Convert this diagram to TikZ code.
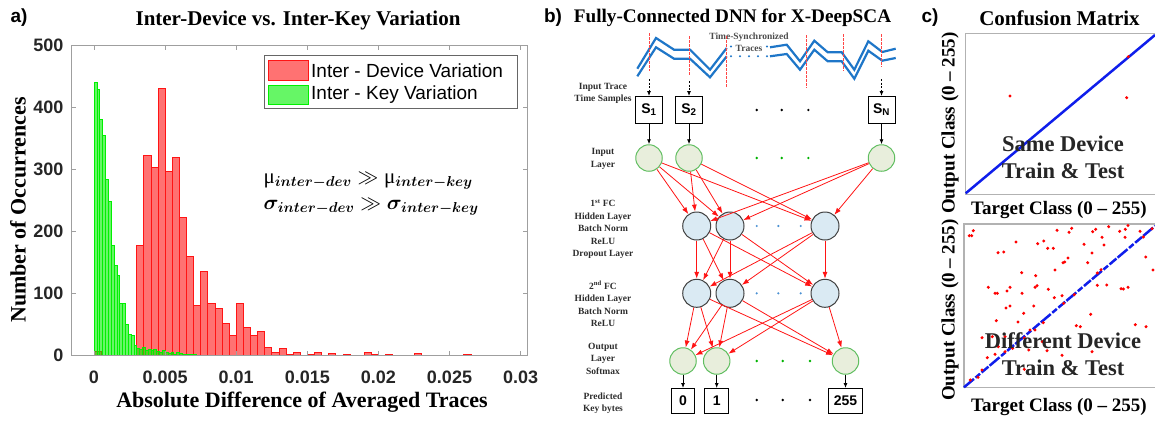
\documentclass[tikz,border=0pt]{standalone}
\usepackage{fontspec}
\setmainfont{Liberation Serif}
\setsansfont{Liberation Sans}
\usepackage{bm}
\usepackage{tikz}
\usetikzlibrary{arrows.meta,calc}

\definecolor{histred}{RGB}{255,20,20}
\definecolor{histgreen}{RGB}{0,240,0}
\definecolor{tracebl}{RGB}{30,118,200}
\definecolor{ingreen}{RGB}{96,190,96}
\definecolor{infill}{RGB}{232,238,220}
\definecolor{hidfill}{RGB}{218,234,243}
\definecolor{cmblue}{RGB}{15,30,235}
\definecolor{labgray}{RGB}{45,45,45}
\definecolor{tickgray}{RGB}{38,38,38}
\definecolor{samplered}{RGB}{255,70,70}

\tikzset{
  redbar/.style={draw=histred, line width=0.6pt, fill=histred, fill opacity=0.6},
  greenbar/.style={draw=histgreen, line width=0.5pt, fill=histgreen, fill opacity=0.6},
  axisbox/.style={draw=gray!75, line width=0.8pt},
  ticklab/.style={font=\sffamily\bfseries\fontsize{18}{20}\selectfont, text=tickgray},
  legtext/.style={font=\sffamily\fontsize{19}{22}\selectfont, anchor=west, inner sep=0pt},
  axlab/.style={font=\bfseries\fontsize{22}{24}\selectfont},
  paneltitle/.style={font=\bfseries\fontsize{21}{24}\selectfont},
  panel/.style={font=\sffamily\bfseries\fontsize{19}{22}\selectfont},
  smalllab/.style={font=\bfseries\fontsize{9.5}{12.4}\selectfont, text=labgray, align=center},
  samplebox/.style={draw, line width=1pt, minimum size=27pt, inner sep=0pt, font=\sffamily\bfseries\fontsize{14}{16}\selectfont},
  outbox/.style={draw, line width=1pt, minimum height=25pt, minimum width=23.5pt, inner xsep=5pt, inner ysep=0pt, font=\sffamily\bfseries\fontsize{14}{16}\selectfont},
  innode/.style={circle, draw=ingreen, fill=infill, line width=1pt, minimum size=26.5pt, inner sep=0pt},
  hidnode/.style={circle, draw=black!75, fill=hidfill, line width=1pt, minimum size=28pt, inner sep=0pt},
  fcarrow/.style={histred, line width=0.8pt, -{Latex[length=7pt,width=5pt]}},
  blkarrow/.style={line width=0.8pt, -{Latex[length=5pt,width=4pt]}},
  tracepath/.style={tracebl, line width=2.2pt},
  sampline/.style={samplered, dash pattern=on 2.5pt off 1.5pt, line width=1pt},
  cmframe/.style={draw=gray!60, line width=1.2pt},
  cmlab/.style={font=\bfseries\fontsize{19}{22}\selectfont},
  cmtext/.style={font=\bfseries\fontsize{22.5}{27}\selectfont, text=black!85, align=center},
  cmdot/.style={red, radius=1.7},
}

\begin{document}
\begin{tikzpicture}[x=1pt,y=-1pt]
\useasboundingbox (0,0) rectangle (1155,421);

%a) histogram
\node[panel] at (19,18) {a)};
\node[paneltitle] at (298,20) {Inter-Device vs. Inter-Key Variation};

\begin{scope}[shift={(94pt,-355.7pt)}, x=1.422pt, y=0.6214pt]
% inter-device, bins of 0.0005
\foreach \u/\h in {0/7,30/177,35/323,40/303,45/430,50/296,55/320,60/222,65/160,70/81,75/136,80/84,85/76,90/52,95/33,100/84,105/46,110/33,115/39,120/14,125/6,130/12,135/3,140/5,145/1,150/2,155/5,160/1,165/4,170/1,175/3,180/1,185/1,190/6,195/3,200/1,205/3,210/1,215/1,220/1,225/4,230/1,235/1,240/1,245/1,250/1,255/1,260/3,265/1,270/1,275/1,280/1,285/1}
  \draw[redbar] (\u,0) rectangle ++(5,\h);
% inter-key, bins of 0.0002
\foreach \u/\h in {0/440,2/428,4/380,6/354,8/284,10/248,12/177,14/145,16/130,18/85,20/85,22/50,24/34,26/33,28/17,30/12,32/10,34/14,36/9,38/10,40/8,42/11,44/7,46/6,48/8,50/5,52/4,54/6,56/3,58/5,60/4,62/2,64/3,66/2,68/3,70/2}
  \draw[greenbar] (\u,0) rectangle ++(2,\h);
\foreach \u in {72,74,...,140}
  \draw[greenbar] (\u,0) rectangle ++(2,1);
\end{scope}

\draw[axisbox] (71.4,45) rectangle (527.5,355.7);
\foreach \k/\lab in {0/0,1/0.005,2/0.01,3/0.015,4/0.02,5/0.025,6/0.03} {
  \draw[axisbox] ({94+71.1*\k},355.7) -- ++(0,-5);
  \draw[axisbox] ({94+71.1*\k},45) -- ++(0,5);
  \node[ticklab] at ({94+71.1*\k},377) {\lab};
}
\foreach \c in {0,...,5} {
  \draw[axisbox] (71.4,{355.7-62.14*\c}) -- ++(5,0);
  \draw[axisbox] (527.5,{355.7-62.14*\c}) -- ++(-5,0);
  \node[ticklab, anchor=east] at (67,{355.7-62.14*\c}) {\pgfmathparse{int(100*\c)}\pgfmathresult};
}
\node[axlab, rotate=90] at (18,210) {Number of Occurrences};
\node[axlab] at (302,402) {Absolute Difference of Averaged Traces};

% legend
\draw[fill=white, draw=black!60, line width=0.8pt] (264,55) rectangle (517,108);
\draw[redbar] (268,60) rectangle (308,80);
\draw[greenbar] (268,85) rectangle (308,104);
\node[legtext] at (311,70.5) {Inter - Device Variation};
\node[legtext] at (311,95) {Inter - Key Variation};

\node[anchor=west, font=\fontsize{21}{25}\selectfont] at (260,181)
  {μ$_{\bm{inter-dev}} \gg {}$μ$_{\bm{inter-key}}$};
\node[anchor=west, font=\fontsize{21}{25}\selectfont] at (260,207)
  {$\bm{\sigma}_{\bm{inter-dev}} \gg \bm{\sigma}_{\bm{inter-key}}$};

%b) network
\node[panel] at (553,18) {b)};
\node[paneltitle, font=\bfseries\fontsize{19.2}{22}\selectfont] at (732.5,18) {Fully-Connected DNN for X-DeepSCA};

% traces
\draw[tracepath] (637.3,68.7) -- (656,38) -- (674,49.7) -- (690,49.7) -- (710,69.7) -- (726.7,48);
\draw[tracepath] (637.3,76.3) -- (656,47.3) -- (674,58.7) -- (690,58.7) -- (710,77.3) -- (726.7,56.3);
\draw[tracepath] (770,47.3) -- (786.7,44.7) -- (800,61.3) -- (814.3,40.7) -- (827.7,52.3) -- (841.7,52.3) -- (854.3,69.7) -- (868.3,41.3) -- (882.3,52) -- (895.7,48.7);
\draw[tracepath] (770,56.3) -- (786.7,54) -- (800,69.7) -- (814.3,49.7) -- (827.7,61.3) -- (841.7,61.3) -- (854.3,78.7) -- (868.3,50.7) -- (882.3,60.7) -- (895.7,58);
\foreach \x in {731,767} \fill[tracebl] (\x,46.5) circle (1.1);
\foreach \x in {731,740,749,758,767} \fill[tracebl] (\x,56.3) circle (1.1);
\node[smalllab, text=black!70] at (749,42) {Time-Synchronized\\Traces};

% sample boxes
\node[samplebox] (s1) at (649,110) {S\textsubscript{1}};
\node[samplebox] (s2) at (689,110) {S\textsubscript{2}};
\node[samplebox] (sN) at (881.5,110) {S\textsubscript{N}};
\coordinate (t1) at (649,79);
\coordinate (t2) at (689,81);
\coordinate (tN) at (881.5,79);
\draw[sampline] (649,33) -- (649,71);
\draw[sampline] (689,36) -- (689,75);
\draw[sampline] (881.5,34) -- (881.5,67);
\draw[sampline] (726.7,36) -- (726.7,87);
\draw[sampline] (806,35) -- (806,88);
\draw[sampline] (843.3,34) -- (843.3,71);
\draw[blkarrow, dash pattern=on 2pt off 1.5pt] (t1) -- (s1);
\draw[blkarrow, dash pattern=on 2pt off 1.5pt] (t2) -- (s2);
\draw[blkarrow, dash pattern=on 2pt off 1.5pt] (tN) -- (sN);
\foreach \x in {756.7,781.7,808.3} \fill (\x,110) circle (1.3);

% input layer
\node[innode] (in1) at (649,158) {};
\node[innode] (in2) at (689,158) {};
\node[innode] (inN) at (881.5,158) {};
\draw[blkarrow] (s1) -- (in1);
\draw[blkarrow] (s2) -- (in2);
\draw[blkarrow] (sN) -- (inN);
\foreach \x in {756.7,781.7,808.3} \fill[green!70!black] (\x,158) circle (1.3);

% hidden layers
\node[hidnode] (ha1) at (696.7,226) {};
\node[hidnode] (ha2) at (730,226) {};
\node[hidnode] (haN) at (825,226) {};
\node[hidnode] (hb1) at (696.7,293.3) {};
\node[hidnode] (hb2) at (730,293.3) {};
\node[hidnode] (hbN) at (825,293.3) {};
\foreach \x in {756.7,778.3,800.7} {
  \fill[tracebl!80] (\x,226) circle (1.2);
  \fill[tracebl!80] (\x,293.3) circle (1.2);
}

% output layer
\node[innode] (o1) at (683,361) {};
\node[innode] (o2) at (716.7,361) {};
\node[innode] (oN) at (845.5,361) {};
\foreach \x in {756.7,782.7,810} {
  \fill[green!70!black] (\x,361) circle (1.3);
  \fill (\x,400) circle (1.3);
}
\node[outbox] (k0) at (683,401) {0};
\node[outbox] (k1) at (716.7,401) {1};
\node[outbox] (kN) at (845.5,401) {255};
\draw[blkarrow] (o1) -- (k0);
\draw[blkarrow] (o2) -- (k1);
\draw[blkarrow] (oN) -- (kN);

% fully connected links
\foreach \s in {in1,in2,inN}
  \foreach \t in {ha1,ha2,haN} \draw[fcarrow] (\s) -- (\t);
\foreach \s in {ha1,ha2,haN}
  \foreach \t in {hb1,hb2,hbN} \draw[fcarrow] (\s) -- (\t);
\foreach \s in {hb1,hb2,hbN}
  \foreach \t in {o1,o2,oN} \draw[fcarrow] (\s) -- (\t);

% layer labels
\node[smalllab] at (603,93.3) {Input Trace\\Time Samples};
\node[smalllab] at (603,159) {Input\\Layer};
\node[smalllab] at (603,229) {1\textsuperscript{st} FC\\Hidden Layer\\Batch Norm\\ReLU\\Dropout Layer};
\node[smalllab] at (603,304) {2\textsuperscript{nd} FC\\Hidden Layer\\Batch Norm\\ReLU};
\node[smalllab] at (603,358.8) {Output\\Layer\\Softmax};
\node[smalllab] at (603,403) {Predicted\\Key bytes};

%c) confusion matrices
\node[panel] at (930,18) {c)};
\node[paneltitle] at (1059.5,18) {Confusion Matrix};

% same device
\draw[cmframe] (1160,33.3) -- (965.7,33.3) -- (965.7,194.3) -- (1160,194.3);
\draw[cmblue, line width=2.5pt] (965.7,193.3) -- (1155,35);
\foreach \x/\y in {1010/96,1126.7/97.7,1128.3/56.7} \fill[cmdot] (\x,\y) circle;
\node[cmtext] at (1063,157) {Same Device\\Train \& Test};
\node[cmlab] at (1059,210) {Target Class (0 -- 255)};
\node[cmlab, rotate=90] at (950,123) {Output Class (0 -- 255)};

% different device
\draw[cmframe] (1160,224) -- (964,224) -- (964,387.3) -- (1160,387.3);
\draw[cmblue, line width=2.5pt, dash pattern=on 13pt off 2pt on 6pt off 2pt on 9pt off 1.5pt] (964,387.3) -- (1155,226);
\foreach \x/\y in {969.3/235.7,973.3/230.7,971.7/235.7,1016/242,1037.7/243.7,1043.7/241,1047.7/248.3,1053.3/248.3,1057/230.3,1069/232.3,1071.7/228.3,1084/244.3,1092.7/231.7,1095.7/229.3,1102/237.3,1104/245,1108.7/226.7,1119.7/231.3,1125.3/229.3,1128/225.5,1140/231.3,1143.3/237,1152/228.7,1125/237.3,998/252.7,1003.7/252,1092/253,1068/258,1064.7/262,1063/262.7,1055/270,1035.7/275.7,1021.7/272.7,1087.7/262.7,1101/269.7,1097.3/273,1145.7/257,988.3/287.3,995/293.3,997.3/293.3,1007/291,1010/287.3,1022/293.3,1035/287.3,1037/285.7,1048.3/289.3,1054.3/297.7,1062/295.7,1074.3/294.7,1097.3/285.3,1106.7/285,1121/288.7,1123.3/289,1128/287.3,1153/270,1006/308,1010/306,1023.7/313.3,1033.7/306,1063.7/303.3,1090.7/314.3,996.3/320.7,1018/322,1035/330,1043.3/322.7,1030/330,1024.3/338,1076.3/325.7,1080.3/326.7,1135.3/324.7,1146/326.7,982/337.7,992.3/336.7,998.3/346.7,1005/336.7,1012.7/348.3,1042.3/341.7,1047/350.7,1028.7/350,1062/355.3,1092/351.7,987.3/357.7,995/354.3,1005/351.7,982/370,978/377.3,970.3/380,1024.3/369.3}
  \fill[cmdot] (\x,\y) circle;
\node[cmtext] at (1063,354) {Different Device\\Train \& Test};
\node[cmlab] at (1059,406.7) {Target Class (0 -- 255)};
\node[cmlab, rotate=90] at (950,310) {Output Class (0 -- 255)};
\end{tikzpicture}
\end{document}
